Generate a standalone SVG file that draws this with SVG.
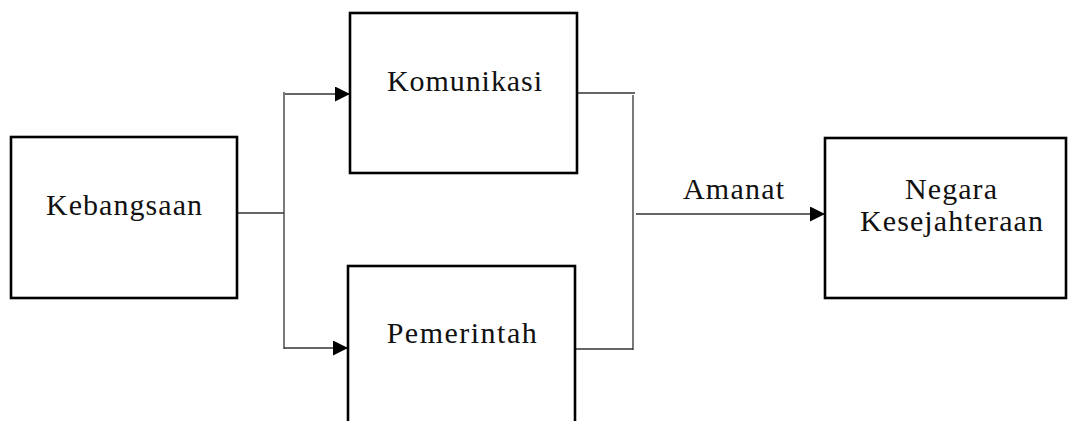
<svg xmlns="http://www.w3.org/2000/svg" width="1068" height="421" viewBox="0 0 1068 421">
<style>
.box{fill:#fff;stroke:#000;stroke-width:2.6}
.lbl{font-family:"Liberation Serif","Times New Roman",serif;font-size:30px;fill:#111;text-anchor:middle}
.con{fill:none;stroke:#333;stroke-width:1.3}
</style>
<defs>
<marker id="arr" markerUnits="userSpaceOnUse" markerWidth="16" markerHeight="16" refX="15" refY="7.5" orient="auto">
<path d="M0,0 L15,7.5 L0,15 Z" fill="#000"/>
</marker>
</defs>
<g id="connectors">
<line class="con" x1="237" y1="213" x2="284" y2="213"/>
<line class="con" x1="284" y1="92" x2="284" y2="349"/>
<line class="con" x1="285" y1="94" x2="350" y2="94" marker-end="url(#arr)"/>
<line class="con" x1="284" y1="348" x2="348" y2="348" marker-end="url(#arr)"/>
<line class="con" x1="577" y1="93" x2="635" y2="93"/>
<line class="con" x1="633" y1="95" x2="633" y2="350"/>
<line class="con" x1="575" y1="349" x2="633" y2="349"/>
<line class="con" x1="636" y1="214" x2="825" y2="214" marker-end="url(#arr)"/>
<text class="lbl" x="733.5" y="199" textLength="101" lengthAdjust="spacing">Amanat</text>
</g>
<g id="kebangsaan">
<rect class="box" x="11" y="137" width="226" height="161"/>
<text class="lbl" x="124" y="215" textLength="156" lengthAdjust="spacing">Kebangsaan</text>
</g>
<g id="komunikasi">
<rect class="box" x="350" y="13" width="227" height="160"/>
<text class="lbl" x="464.5" y="91" textLength="155" lengthAdjust="spacing">Komunikasi</text>
</g>
<g id="pemerintah">
<rect class="box" x="348" y="266" width="227" height="180"/>
<text class="lbl" x="461.7" y="343" textLength="150" lengthAdjust="spacing">Pemerintah</text>
</g>
<g id="negara">
<rect class="box" x="825" y="138" width="241" height="160"/>
<text class="lbl" x="951" y="199" textLength="92" lengthAdjust="spacing">Negara</text>
<text class="lbl" x="951.5" y="231" textLength="183" lengthAdjust="spacing">Kesejahteraan</text>
</g>
</svg>
